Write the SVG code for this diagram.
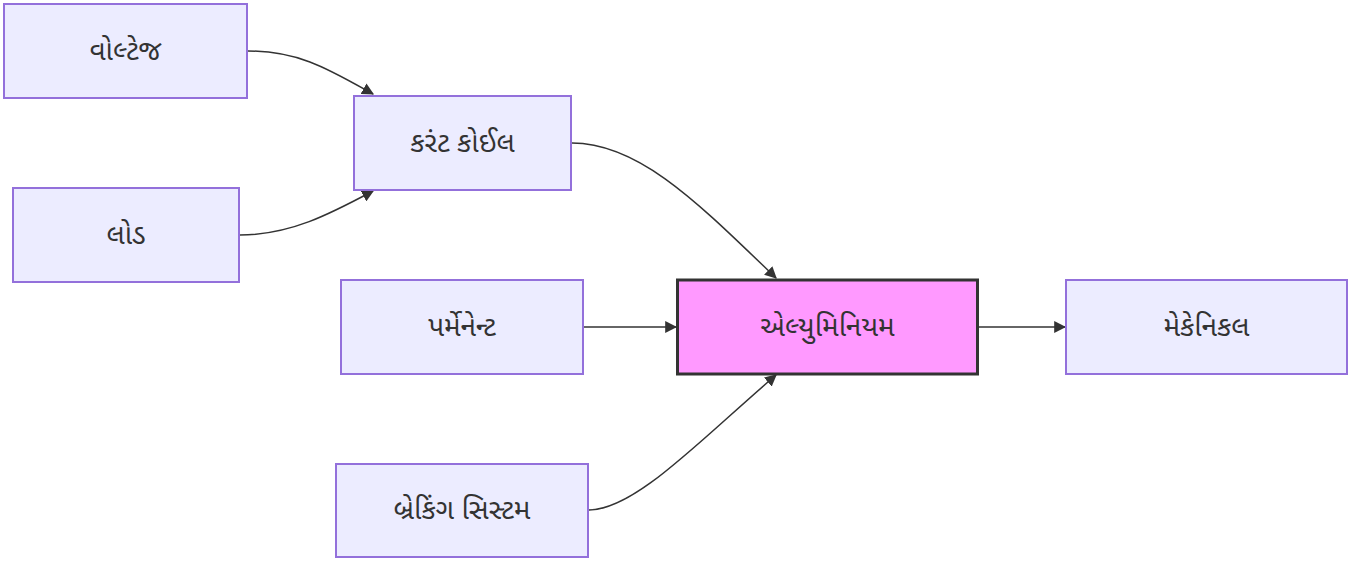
<svg xmlns="http://www.w3.org/2000/svg" width="1362" height="562" viewBox="0 0 1362 562">
  <style>
    .node rect { fill: #ECECFF; stroke: #9370DB; stroke-width: 2; }
    .node.hl rect { fill: #FF99FF; stroke: #333333; stroke-width: 3; }
    .node text { font-family: "Noto Sans Gujarati", "Noto Sans", "Liberation Sans", sans-serif; font-size: 28px; font-weight: 400; fill: #333333; text-anchor: middle; dominant-baseline: central; }
    .edge { fill: none; stroke: #333333; stroke-width: 1.5; }
  </style>
  <defs>
    <marker id="arrow" viewBox="0 0 10 10" refX="9" refY="5" markerWidth="12" markerHeight="12" markerUnits="userSpaceOnUse" orient="auto">
      <path d="M0,0 L10,5 L0,10 z" fill="#333333"/>
    </marker>
  </defs>
  <rect width="1362" height="562" fill="#ffffff"/>

  <g id="connectors">
    <path class="edge" d="M248,51 C300,51 330,70 373,94" marker-end="url(#arrow)"/>
    <path class="edge" d="M240,235 C290,235 330,214 373,191" marker-end="url(#arrow)"/>
    <path class="edge" d="M572,143 C640,143 700,205 776,278" marker-end="url(#arrow)"/>
    <path class="edge" d="M584,327 L676,327" marker-end="url(#arrow)"/>
    <path class="edge" d="M589,510 C635,510 700,440 776,375" marker-end="url(#arrow)"/>
    <path class="edge" d="M978,327 L1065,327" marker-end="url(#arrow)"/>
  </g>

  <g id="node-voltage" class="node">
    <rect x="4" y="4" width="243" height="94"/>
    <text x="125.5" y="53">વોલ્ટેજ</text>
  </g>
  <g id="node-current-coil" class="node">
    <rect x="354" y="96" width="217" height="94"/>
    <text x="462.5" y="145">કરંટ કોઈલ</text>
  </g>
  <g id="node-load" class="node">
    <rect x="13" y="188" width="226" height="94"/>
    <text x="126" y="237">લોડ</text>
  </g>
  <g id="node-permanent" class="node">
    <rect x="341" y="280" width="242" height="94"/>
    <text x="462" y="329">પર્મેનેન્ટ</text>
  </g>
  <g id="node-braking" class="node">
    <rect x="336" y="464" width="252" height="93"/>
    <text x="462" y="512">બ્રેકિંગ સિસ્ટમ</text>
  </g>
  <g id="node-aluminium" class="node hl">
    <rect x="677.5" y="280" width="300" height="94"/>
    <text x="827.5" y="329">એલ્યુમિનિયમ</text>
  </g>
  <g id="node-mechanical" class="node">
    <rect x="1066" y="280" width="281" height="94"/>
    <text x="1206.5" y="329">મેકેનિકલ</text>
  </g>
</svg>
